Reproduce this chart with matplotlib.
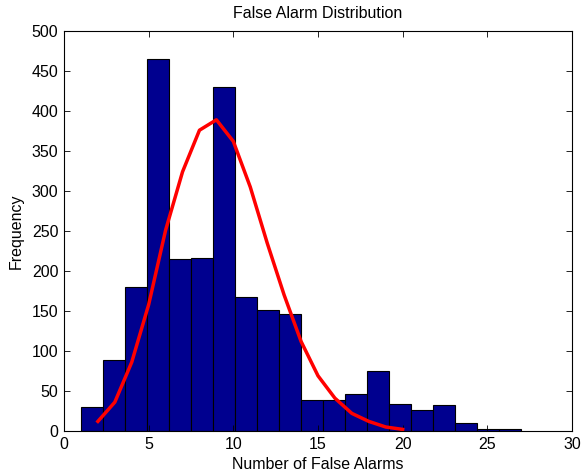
import matplotlib
matplotlib.use("Agg")
import matplotlib.pyplot as plt
import numpy as np

plt.rcParams['font.family'] = ['Liberation Sans', 'DejaVu Sans']

# Histogram bins (20 bins from 1 to 27)
bin_edges = np.linspace(1, 27, 21)
counts = [30, 89, 180, 465, 215, 216, 430, 168, 151, 146,
          39, 39, 46, 75, 34, 26, 33, 10, 3, 3]

# Fitted curve
fit_x = [2, 3, 4, 5, 6, 7, 8, 9, 10, 11, 12, 13, 14, 15, 16, 17, 18, 19, 20]
fit_y = [12, 36, 86, 158, 251, 324, 376, 389, 362, 305, 235, 170, 112,
         69, 41, 22, 12, 5, 2]

xticks = [0, 5, 10, 15, 20, 25, 30]
yticks = [0, 50, 100, 150, 200, 250, 300, 350, 400, 450, 500]

fig = plt.figure(figsize=(5.81, 4.73), dpi=100)
ax = fig.add_axes([64/581, 1-431/473, (572-64)/581, (431-31)/473])

widths = np.diff(bin_edges)
ax.bar(bin_edges[:-1], counts, width=widths, align='edge',
       color='#00008F', edgecolor='black', linewidth=0.8)
ax.plot(fit_x, fit_y, color='red', linewidth=2.5)

ax.set_xlim(0, 30)
ax.set_ylim(0, 500)
ax.set_xticks(xticks)
ax.set_yticks(yticks)
ax.tick_params(direction='in', top=True, right=True, labelsize=11.5,
               length=4, width=0.6, pad=4)
for s in ax.spines.values():
    s.set_linewidth(0.8)

ax.set_title('False Alarm Distribution', fontsize=11.5, pad=9)
ax.set_xlabel('Number of False Alarms', fontsize=11.5, labelpad=4)
ax.set_ylabel('Frequency', fontsize=11.5, labelpad=6)

fig.savefig('out.png', dpi=100)
